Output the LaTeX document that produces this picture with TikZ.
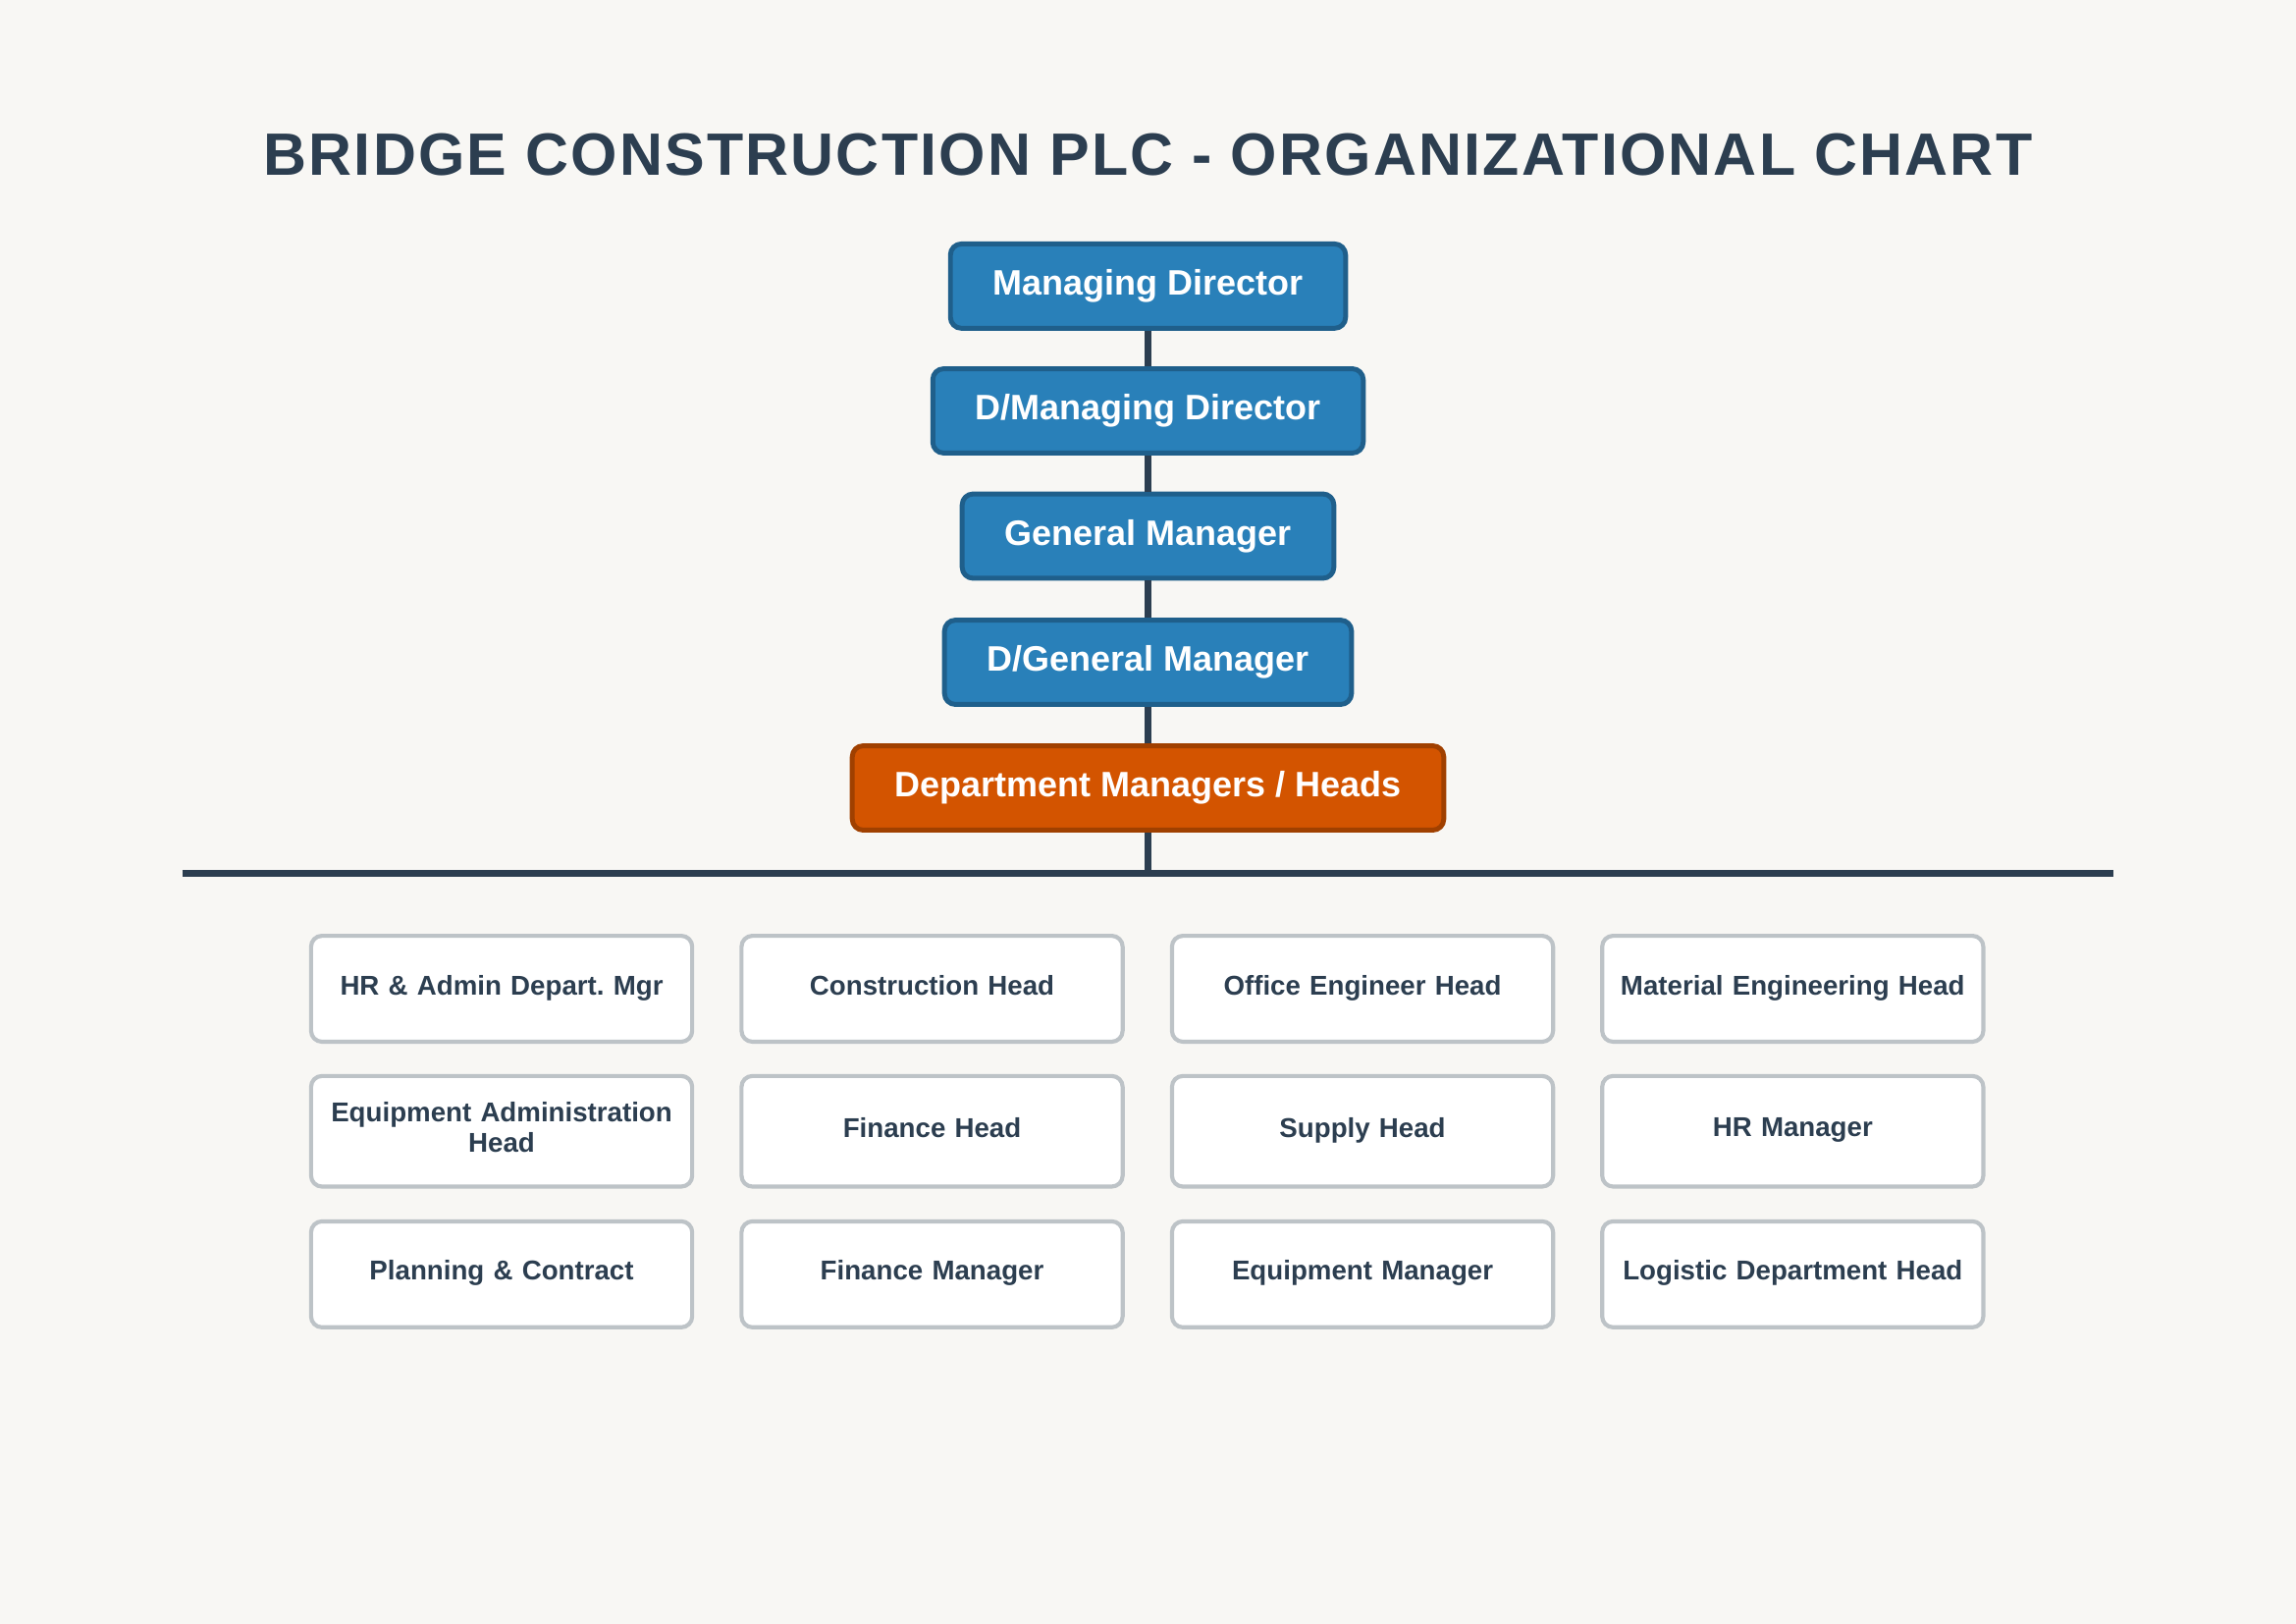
\documentclass[tikz,border=0pt]{standalone}
\usepackage{fontspec}
\setmainfont{Liberation Sans}
\usepackage{tikz}
\usetikzlibrary{positioning}

\definecolor{bgpaper}{HTML}{F8F7F4}
\definecolor{inkdark}{HTML}{2C3E50}
\definecolor{execblue}{HTML}{2980B9}
\definecolor{execedge}{HTML}{1F5F8B}
\definecolor{deptorange}{HTML}{D35400}
\definecolor{deptedge}{HTML}{A04000}
\definecolor{unitgrey}{HTML}{BDC3C7}

\tikzset{
  execbox/.style={draw=execedge,fill=execblue,line width=1.8pt,rounded corners=4pt,
    minimum height=1.09cm,inner xsep=0.55cm,text=white,
    font=\fontsize{13}{15}\selectfont\bfseries},
  deptbox/.style={execbox,draw=deptedge,fill=deptorange},
  unitbox/.style={draw=unitgrey,fill=white,line width=1.5pt,rounded corners=4pt,
    minimum width=4.93cm,minimum height=1.37cm,text width=4.6cm,align=center,
    text=inkdark,font=\fontsize{10}{9.5}\selectfont\bfseries\frenchspacing,
    execute at begin node=\strut,execute at end node=\strut},
  linkline/.style={draw=inkdark,line width=2.5pt,line cap=butt}
}

\begin{document}
\begin{tikzpicture}[line cap=round,line join=round,x=1.0cm,y=1.0cm]

\fill[bgpaper] (0.,0.) rectangle (29.7,21.0);
\useasboundingbox (0.,0.) rectangle (29.7,21.0);

\node[anchor=base,text=inkdark,font=\fontsize{22}{26}\selectfont\bfseries\addfontfeature{LetterSpace=3.6}] (title) at (14.85,18.73) {BRIDGE CONSTRUCTION PLC - ORGANIZATIONAL CHART};

% management line
\node[execbox] (md) at (14.85,17.30) {Managing Director};
\node[execbox] (dmd) at (14.85,15.686) {D/Managing Director};
\node[execbox] (gm) at (14.85,14.067) {General Manager};
\node[execbox] (dgm) at (14.85,12.435) {D/General Manager};
\node[deptbox] (dept) at (14.85,10.81) {Department Managers / Heads};

\coordinate (barleft) at (2.36,9.70);
\coordinate (barmid) at (14.85,9.70);
\coordinate (barright) at (27.34,9.70);

\draw[linkline] (md) -- (dmd);
\draw[linkline] (dmd) -- (gm);
\draw[linkline] (gm) -- (dgm);
\draw[linkline] (dgm) -- (dept);
\draw[linkline] (dept) -- (barmid);
\draw[linkline] (barleft) -- (barright);

% departments
\node[unitbox] (hradmin) at (6.489,8.213) {HR \& Admin Depart. Mgr};
\node[unitbox] (construct) at (12.057,8.213) {Construction Head};
\node[unitbox] (officeeng) at (17.625,8.213) {Office Engineer Head};
\node[unitbox] (materialeng) at (23.19,8.213) {Material Engineering Head};
\node[unitbox,minimum height=1.43cm] (equipadmin) at (6.489,6.37) {Equipment Administration\\ Head};
\node[unitbox,minimum height=1.43cm] (finhead) at (12.057,6.37) {Finance Head};
\node[unitbox,minimum height=1.43cm] (supply) at (17.625,6.37) {Supply Head};
\node[unitbox,minimum height=1.43cm] (hrmgr) at (23.19,6.37) {HR Manager};
\node[unitbox] (planning) at (6.489,4.52) {Planning \& Contract};
\node[unitbox] (finmgr) at (12.057,4.52) {Finance Manager};
\node[unitbox] (equipmgr) at (17.625,4.52) {Equipment Manager};
\node[unitbox] (logistic) at (23.19,4.52) {Logistic Department Head};

\end{tikzpicture}
\end{document}
